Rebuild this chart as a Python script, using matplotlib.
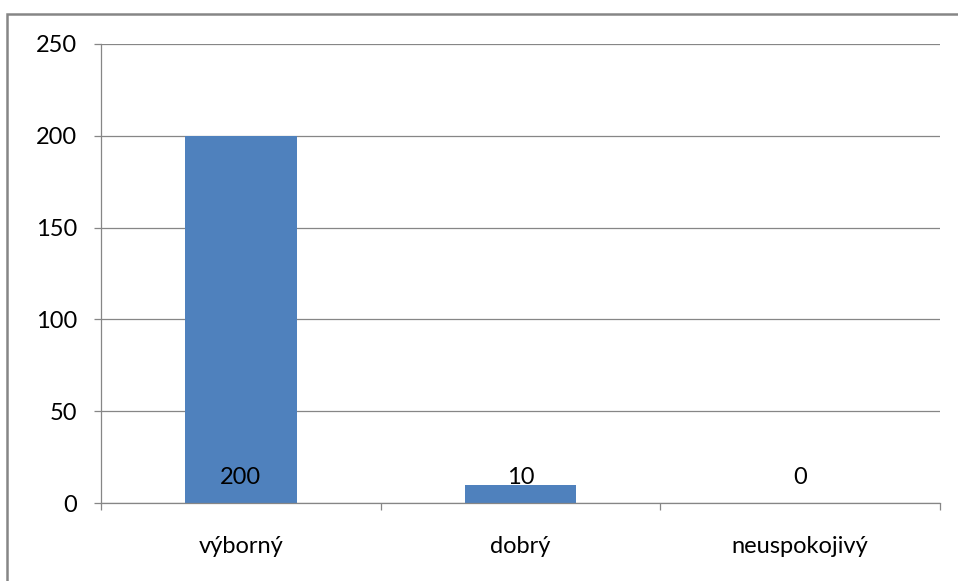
import matplotlib
matplotlib.use("Agg")
import matplotlib.pyplot as plt
from matplotlib.patches import Rectangle

categories = ["výborný", "dobrý", "neuspokojivý"]
values = [200, 10, 0]
yticks = [0, 50, 100, 150, 200, 250]

plt.rcParams['font.family'] = ['Lato', 'DejaVu Sans']

W, H = 958, 581
fig = plt.figure(figsize=(W / 100, H / 100), dpi=100)
fig.patch.set_facecolor("white")

# outer chart border (extends beyond right/bottom edges)
fig.patches.append(Rectangle((7 / W, -0.05), 1.2, 1 - 14 / H + 0.05,
                             transform=fig.transFigure, fill=False,
                             edgecolor="#868686", linewidth=1.8, zorder=0))

ax = fig.add_axes([101 / W, 1 - 503 / H, (940 - 101) / W, (503 - 44) / H])
ax.set_facecolor("none")
x = list(range(len(categories)))
ax.bar(x, values, width=0.4, color="#4F81BD", zorder=2)
ax.set_xlim(-0.5, len(categories) - 0.5)
ax.set_ylim(0, 250)
ax.set_yticks(yticks)
ax.set_yticklabels([str(t) for t in yticks])
ax.set_xticks(x)
ax.set_xticklabels(categories)
ax.set_xticks([-0.5, 0.5, 1.5, 2.5], minor=True)

grid_c = "#868686"
fs = 17
ax.grid(axis="y", color=grid_c, linewidth=0.9, zorder=1)
for s in ["top", "right"]:
    ax.spines[s].set_visible(False)
for s in ["left", "bottom"]:
    ax.spines[s].set_color(grid_c)
    ax.spines[s].set_linewidth(0.9)

ax.tick_params(axis="y", length=5, width=0.9, color=grid_c, pad=12,
               labelsize=fs, labelcolor="#000000")
ax.tick_params(axis="x", which="major", length=0, pad=24, labelsize=fs,
               labelcolor="#000000")
ax.tick_params(axis="x", which="minor", length=5, width=0.9, color=grid_c)

for xi, v in zip(x, values):
    ax.annotate(str(v), (xi, 0), xytext=(0, 25), textcoords="offset pixels",
                ha="center", va="center", fontsize=fs, color="#000000",
                zorder=3)

fig.savefig("out.png", dpi=100)
